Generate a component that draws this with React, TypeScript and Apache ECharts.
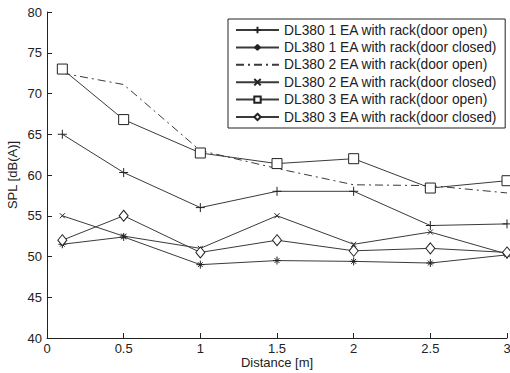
import React, { useEffect, useRef } from "react";
import * as echarts from "echarts";

// Distance from the source (m)
const distances = [0.1, 0.5, 1, 1.5, 2, 2.5, 3];

// Sound pressure level readings, dB(A)
const ea1Open = [65, 60.3, 56, 58, 58, 53.8, 54];
const ea1Closed = [51.5, 52.4, 49, 49.5, 49.4, 49.2, 50.2];
const ea2Open = [72.5, 71.1, 63, 60.8, 58.8, 58.7, 57.8];
const ea2Closed = [55, 52.5, 51, 55, 51.5, 53, 50.3];
const ea3Open = [73, 66.8, 62.7, 61.4, 62, 58.4, 59.3];
const ea3Closed = [52, 55, 50.5, 52, 50.7, 51, 50.5];

const seriesNames = [
  "DL380 1 EA with rack(door open)",
  "DL380 1 EA with rack(door closed)",
  "DL380 2 EA with rack(door open)",
  "DL380 2 EA with rack(door closed)",
  "DL380 3 EA with rack(door open)",
  "DL380 3 EA with rack(door closed)",
];

const xTicks = ["0", "0.5", "1", "1.5", "2", "2.5", "3"];

const PLUS = "path://M5,0L5,10M0,5L10,5";
const STAR = "path://M5,0L5,10M0,5L10,5M2,2L8,8M2,8L8,2";
const CROSS = "path://M0,0L10,10M0,10L10,0";

const FONT = "Liberation Sans";
const INK = "#222";
const LINE = "#3a3a3a";

function pairs(vals: number[]) {
  return distances.map((d, i) => [d, vals[i]]);
}

export default function App() {
  const ref = useRef<HTMLDivElement>(null);
  useEffect(() => {
    if (!ref.current) return;
    const chart = echarts.init(ref.current, undefined, { renderer: "svg" });

    const mk = (
      name: string,
      vals: number[],
      symbol: string,
      size: number | number[],
      dashed: boolean,
      empty: boolean
    ) => ({
      type: "line",
      name,
      data: pairs(vals),
      symbol,
      symbolSize: size,
      showAllSymbol: true,
      lineStyle: {
        color: LINE,
        width: 1,
        type: dashed ? [8, 4, 2, 4] : "solid",
      },
      itemStyle: {
        color: empty ? "#fff" : INK,
        borderColor: INK,
        borderWidth: 1,
      },
      emphasis: { disabled: true },
    });

    chart.setOption({
      animation: false,
      backgroundColor: "#fff",
      grid: { left: 47, right: 3, top: 12, bottom: 35, outerBoundsMode: "none" },
      xAxis: {
        type: "value",
        min: 0,
        max: 3,
        interval: 0.5,
        name: "Distance [m]",
        nameLocation: "middle",
        nameGap: 18,
        nameMoveOverlap: false,
        nameTextStyle: { fontFamily: FONT, fontSize: 13, color: INK },
        axisLine: { lineStyle: { color: INK, width: 1 } },
        axisTick: { inside: true, length: 5, lineStyle: { color: INK } },
        axisLabel: {
          fontFamily: FONT,
          fontSize: 13,
          color: INK,
          margin: 4,
          formatter: (v: number) => xTicks[Math.round(v / 0.5)] ?? String(v),
        },
        splitLine: { show: false },
      },
      yAxis: {
        type: "value",
        min: 40,
        max: 80,
        interval: 5,
        name: "SPL [dB(A)]",
        nameLocation: "middle",
        nameGap: 28,
        nameMoveOverlap: false,
        nameTextStyle: { fontFamily: FONT, fontSize: 13, color: INK },
        axisLine: { show: true, lineStyle: { color: INK, width: 1 } },
        axisTick: { show: true, inside: true, length: 5, lineStyle: { color: INK } },
        axisLabel: { fontFamily: FONT, fontSize: 13, color: INK, margin: 5 },
        splitLine: { show: false },
      },
      legend: {
        orient: "vertical",
        left: 228,
        top: 19,
        padding: [4, 8, 4, 7],
        itemWidth: 43,
        itemHeight: 8,
        itemGap: 3.4,
        borderColor: INK,
        borderWidth: 1,
        backgroundColor: "#fff",
        textStyle: { fontFamily: FONT, fontSize: 13.8, color: INK },
        data: seriesNames.map((n, i) =>
          i === 2 ? { name: n, itemStyle: { opacity: 0 } } : { name: n }
        ),
      },
      series: [
        mk(seriesNames[0], ea1Open, PLUS, 9, false, false),
        mk(seriesNames[1], ea1Closed, STAR, 8, false, false),
        mk(seriesNames[2], ea2Open, "none", 1, true, false),
        mk(seriesNames[3], ea2Closed, CROSS, 5, false, false),
        mk(seriesNames[4], ea3Open, "rect", 10, false, true),
        mk(seriesNames[5], ea3Closed, "diamond", [9, 11], false, true),
      ],
    });
    return () => chart.dispose();
  }, []);
  return <div ref={ref} style={{ width: 510, height: 373, position: "absolute", left: 0, top: 0 }} />;
}
